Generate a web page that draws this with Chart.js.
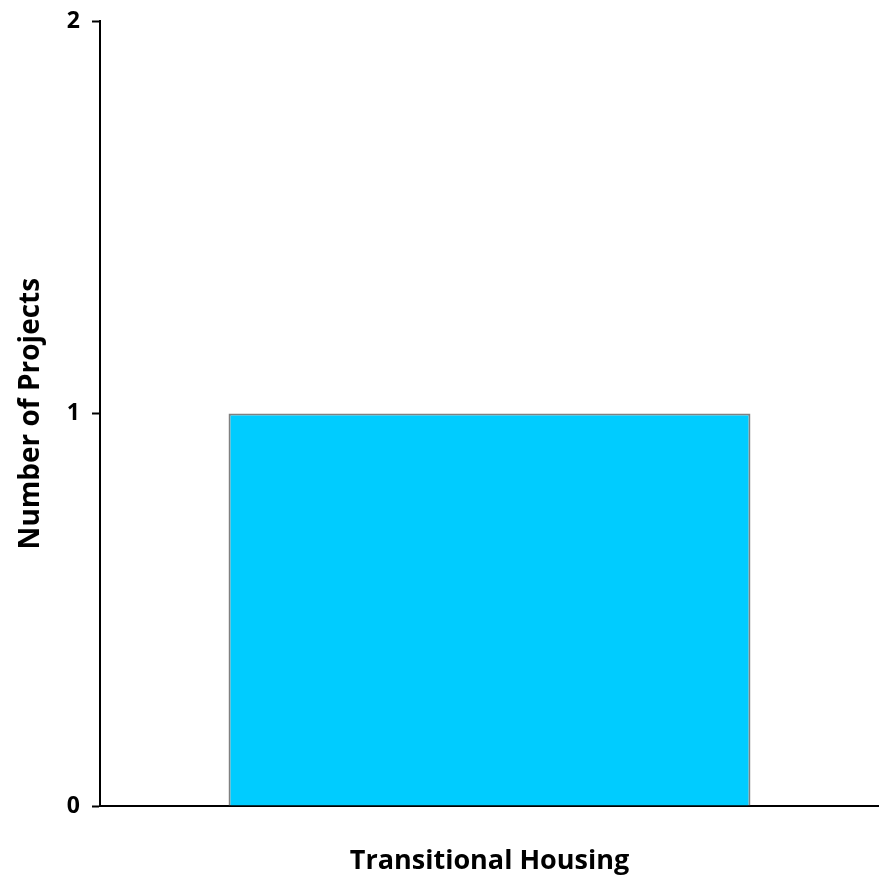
<!DOCTYPE html>
<html>
<head>
<meta charset="utf-8">
<script src="https://cdn.jsdelivr.net/npm/chart.js@4"></script>
<style>
  html, body { margin: 0; padding: 0; background: #fff; }
  #Chart_main { display: block; }
</style>
</head>
<body>
<canvas id="Chart_main" width="879" height="878"></canvas>
<script>
var categories = ["Transitional Housing"];
var projectCounts = [1];
var yTicks = [0, 1, 2];

var fontFam = "'Open Sans', Lato, sans-serif";

var ctx = document.getElementById('Chart_main');
var chart = new Chart(ctx, {
    type: "bar",
    data: {
        labels: categories,
        datasets: [{
            label: "Number of Projects",
            data: projectCounts,
            backgroundColor: "#00CCFF",
            borderColor: "#808080",
            borderWidth: 2,
            categoryPercentage: 1,
            barPercentage: 0.67
        }]
    },
    options: {
        responsive: false,
        animation: false,
        layout: { padding: { top: 17, right: 0, left: 0, bottom: 0 } },
        plugins: { legend: { display: false }, tooltip: { enabled: false } },
        scales: {
            x: {
                grid: { display: false, drawTicks: false },
                border: { color: "#000", width: 2 },
                ticks: { display: false },
                title: {
                    display: true, text: "Transitional Housing", color: "#000",
                    font: { family: fontFam, size: 27, weight: "bold" },
                    padding: { top: 32, bottom: 0 }
                },
                afterFit: function (s) { s.height = 72; }
            },
            y: {
                min: 0, max: 2,
                afterBuildTicks: function (s) { s.ticks = yTicks.map(function (v) { return { value: v }; }); },
                grid: { display: true, drawOnChartArea: false, drawTicks: true, tickLength: 8, color: "#000", tickWidth: 2 },
                border: { color: "#000", width: 2 },
                ticks: { color: "#000", padding: 12, font: { family: fontFam, size: 23, weight: "bold", lineHeight: 0.8 } },
                title: {
                    display: true, text: "Number of Projects", color: "#000",
                    font: { family: fontFam, size: 28, weight: "bold" },
                    padding: { top: 14, bottom: 0 }
                },
                afterFit: function (s) { s.width = 100; }
            }
        }
    }
});
</script>
</body>
</html>
